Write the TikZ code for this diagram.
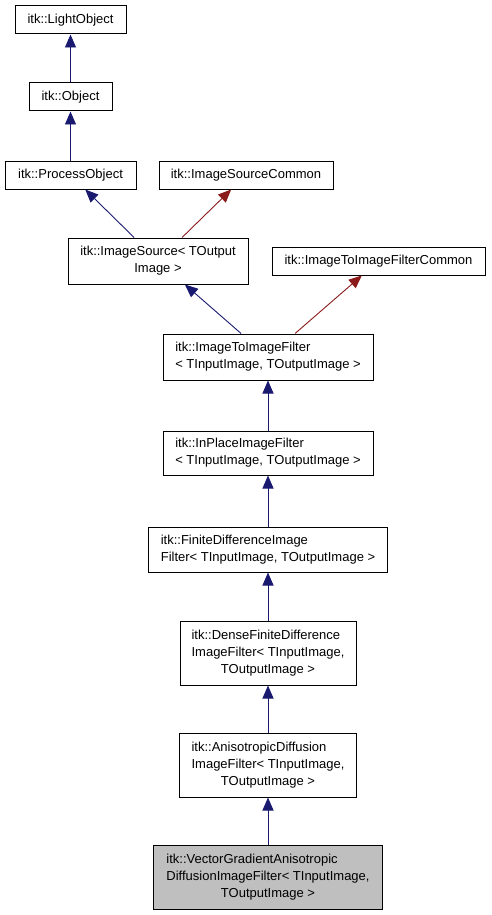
\documentclass[tikz,border=0pt]{standalone}
\usepackage{fontspec}
\setmainfont{Liberation Sans}
\usetikzlibrary{arrows.meta}
\definecolor{edgeblue}{RGB}{25,25,112}
\definecolor{edgered}{RGB}{139,26,26}
\definecolor{boxgray}{RGB}{191,191,191}
\newcommand{\cname}[2]{\begin{tabular}{@{}l@{}}#1\\\multicolumn{1}{@{}c@{}}{#2}\end{tabular}}

\begin{document}
\begin{tikzpicture}[x=1pt,y=-1pt,
  cls/.style={draw=black, line width=1pt, inner sep=0pt, font=\fontsize{13}{17}\selectfont},
  pub/.style={draw=edgeblue, line width=0.9pt, -{Triangle[length=13pt,width=11pt]}},
  priv/.style={draw=edgered, line width=0.9pt, -{Triangle[length=13pt,width=11pt]}}]
\useasboundingbox (0,0) rectangle (491,915);
\node [cls, minimum width=111, minimum height=28] (light) at (70.5,20) {itk::LightObject};
\node [cls, minimum width=83, minimum height=28] (object) at (70.5,97) {itk::Object};
\node [cls, minimum width=131, minimum height=28] (process) at (70.5,175) {itk::ProcessObject};
\node [cls, minimum width=174, minimum height=28] (srccommon) at (246,175) {itk::ImageSourceCommon};
\node [cls, minimum width=180, minimum height=46] (source) at (158,261) {\cname{itk::ImageSource< TOutput}{Image >}};
\node [cls, minimum width=213, minimum height=28] (filtcommon) at (378.5,261) {itk::ImageToImageFilterCommon};
\node [cls, minimum width=210, minimum height=46] (imgfilter) at (268,357) {\cname{itk::ImageToImageFilter}{< TInputImage, TOutputImage >}};
\node [cls, minimum width=210, minimum height=44] (inplace) at (268,453) {\cname{itk::InPlaceImageFilter}{< TInputImage, TOutputImage >}};
\node [cls, minimum width=239, minimum height=45] (finite) at (268,549.5) {\cname{itk::FiniteDifferenceImage}{Filter< TInputImage, TOutputImage >}};
\node [cls, minimum width=176, minimum height=64] (dense) at (268,653) {\cname{itk::DenseFiniteDifference\\ImageFilter< TInputImage,}{TOutputImage >}};
\node [cls, minimum width=177, minimum height=64] (aniso) at (268,765) {\cname{itk::AnisotropicDiffusion\\ImageFilter< TInputImage,}{TOutputImage >}};
\node [cls, fill=boxgray, minimum width=229, minimum height=64] (vector) at (268,877) {\cname{itk::VectorGradientAnisotropic\\DiffusionImageFilter< TInputImage,}{TOutputImage >}};
\draw [pub] (object) -- (light);
\draw [pub] (process) -- (object);
\draw [pub] (source) -- (process);
\draw [priv] (source) -- (srccommon);
\draw [pub] (imgfilter) -- (source);
\draw [priv] (imgfilter) -- (filtcommon);
\draw [pub] (inplace) -- (imgfilter);
\draw [pub] (finite) -- (inplace);
\draw [pub] (dense) -- (finite);
\draw [pub] (aniso) -- (dense);
\draw [pub] (vector) -- (aniso);
\end{tikzpicture}
\end{document}
